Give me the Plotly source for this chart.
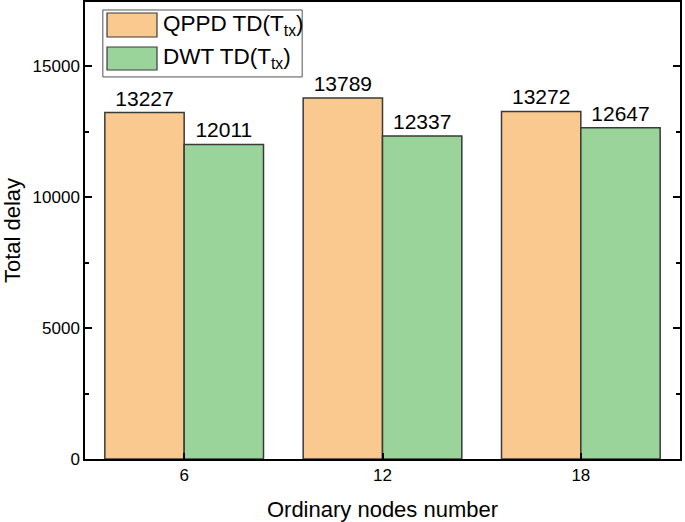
import plotly.graph_objects as go

categories = ["6", "12", "18"]
qppd = [13227, 13789, 13272]
dwt = [12011, 12337, 12647]
names = ["QPPD TD(T<sub>tx</sub>)", "DWT TD(T<sub>tx</sub>)"]
colors = ["#F9C98F", "#9AD49B"]

font = "Liberation Sans, Arial, sans-serif"
fig = go.Figure()
for vals, name, col in zip([qppd, dwt], names, colors):
    fig.add_trace(go.Bar(x=categories, y=vals, name=name,
                         marker=dict(color=col, line=dict(color="#3a3a3a", width=1.5)),
                         text=[str(v) for v in vals], textposition="outside",
                         textfont=dict(size=21, color="black"), cliponaxis=False,
                         showlegend=False))

# custom legend (paper coordinates)
fig.add_shape(type="rect", xref="paper", yref="paper", x0=0.030, x1=0.365, y0=0.836, y1=0.9825,
              line=dict(color="#555", width=1), fillcolor="white", layer="above")
sw = [(0.9234, 0.9759), (0.8512, 0.9015)]
ty = [0.9497, 0.8775]
for (y0, y1), yt, name, col in zip(sw, ty, names, colors):
    fig.add_shape(type="rect", xref="paper", yref="paper", x0=0.037, x1=0.121, y0=y0, y1=y1,
                  line=dict(color="#3a3a3a", width=1.2), fillcolor=col, layer="above")
    fig.add_annotation(xref="paper", yref="paper", x=0.127, y=yt, xanchor="left", yanchor="middle",
                       text=name, showarrow=False, font=dict(size=22.5, family=font, color="black"))

fig.update_layout(
    width=685, height=522,
    margin=dict(l=85, r=5, t=2, b=63),
    paper_bgcolor="white", plot_bgcolor="white",
    font=dict(family=font, color="black", size=17),
    barmode="group", bargap=0.2, bargroupgap=0,
    showlegend=False,
)
fig.update_xaxes(
    title=dict(text="Ordinary nodes number", font=dict(size=22), standoff=18),
    showline=True, linecolor="black", linewidth=1.5, mirror=True,
    ticks="inside", ticklen=6, tickcolor="black", tickwidth=1.5,
    tickfont=dict(size=17), range=[-0.5, 2.5], automargin=False,
)
fig.update_yaxes(
    title=dict(text="Total delay", font=dict(size=22), standoff=12),
    showline=True, linecolor="black", linewidth=1.5, mirror="ticks",
    ticks="inside", ticklen=7, tickcolor="black", tickwidth=1.5,
    tickfont=dict(size=17), range=[0, 17450], dtick=5000, tickformat="d",
    minor=dict(ticks="inside", ticklen=4, dtick=2500, tickcolor="black"),
    showgrid=False, zeroline=False, automargin=False,
)
fig.write_html("out.html", config={"displayModeBar": False},
               post_script="document.body.style.margin='0';document.body.style.overflow='hidden';")
